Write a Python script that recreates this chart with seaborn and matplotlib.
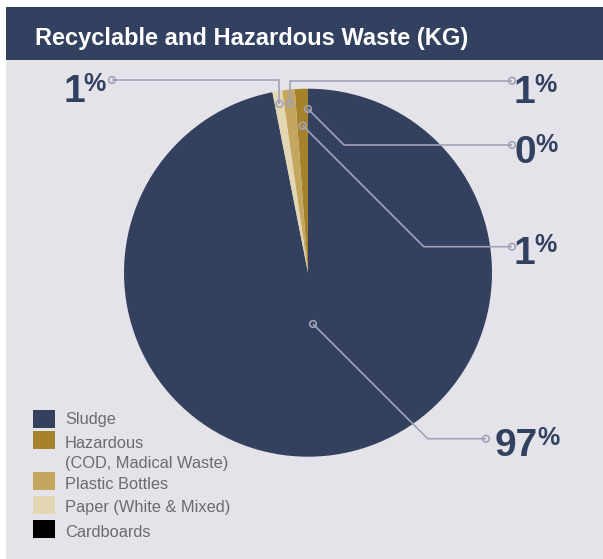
import matplotlib
matplotlib.use("Agg")
import matplotlib.pyplot as plt
import seaborn as sns
import numpy as np
from matplotlib.patches import Rectangle, Circle

# ---- data -------------------------------------------------------------
categories = ["Sludge", "Hazardous\n(COD, Madical Waste)", "Plastic Bottles",
              "Paper (White & Mixed)", "Cardboards"]
shares = [96.9, 1.15, 1.10, 0.85, 0.0]          # percent of total weight
colors = ["#33415F", "#A6832B", "#C4A65E", "#E3D6B3", "#000000"]
title = "Recyclable and Hazardous Waste (KG)"

# ---- style --------------------------------------------------------------
sns.set_theme(style="white")
plt.rcParams["font.family"] = ["Liberation Sans", "DejaVu Sans"]

NAVY = "#334160"
PANEL = "#E4E3EA"
LEADER = "#A0A3B8"
LEGEND_TXT = "#6B6B6E"

W, H = 603, 559
fig = plt.figure(figsize=(W / 100, H / 100), dpi=100, facecolor="white")
ax = fig.add_axes([0, 0, 1, 1])


def Y(y):
    """top-down pixel row -> axes y"""
    return H - y


# panel and header band
ax.add_patch(Rectangle((6, 0), W - 6, Y(60), color=PANEL, zorder=0, lw=0))
ax.add_patch(Rectangle((6, Y(60)), W - 6, 53, color=NAVY, zorder=0, lw=0))
ax.text(35, Y(44.5), title, color="white", fontsize=17, fontweight="bold",
        va="baseline", ha="left", zorder=5)

# ---- pie ----------------------------------------------------------------
cx, cy, R = 308, Y(272.7), 184
total = sum(shares)
wedges, _ = ax.pie(shares, colors=colors, center=(cx, cy), radius=R,
                   startangle=90 - 360 * shares[0] / total, counterclock=True,
                   frame=True, wedgeprops=dict(linewidth=0))
ax.set_xlim(0, W)
ax.set_ylim(0, H)
ax.axis("off")

# ---- leader lines and value labels -------------------------------------
# (anchor radius fraction, route, level row, end column, number x, baseline row)
layout = [
    (0.28, "diag", 438.7, 486, 495, 456.0),    # Sludge
    (0.80, "diag", 246.7, 512, 514, 263.5),    # Hazardous
    (0.925, "up", 80.7, 512, 514, 102.7),      # Plastic Bottles
    (0.93, "up", 80.0, 112, 63, 102.3),        # Paper
    (0.89, "diag", 145.0, 512, 515, 162.7),    # Cardboards
]

for i, (w, share, (rf, route, lvl, xend, nx, base)) in enumerate(
        zip(wedges, shares, layout)):
    if share > 0:
        theta = np.deg2rad((w.theta1 + w.theta2) / 2)
    else:
        theta = np.deg2rad(wedges[0].theta2)
    x0 = cx + rf * R * np.cos(theta)
    y0 = cy + rf * R * np.sin(theta)
    ylev = Y(lvl)
    if route == "up":
        xs = [x0, x0, xend]
        ys = [y0, ylev, ylev]
    else:
        xe = x0 + (y0 - ylev)
        xs = [x0, xe, xend]
        ys = [y0, ylev, ylev]
    ax.plot(xs, ys, color=LEADER, lw=1.2, zorder=4, solid_capstyle="butt")
    for (px, py) in [(xs[0], ys[0]), (xs[-1], ys[-1])]:
        ax.add_patch(Circle((px, py), 3.3, facecolor="none", edgecolor=LEADER,
                            lw=1.2, zorder=5))
    num = ax.text(nx, Y(base), f"{round(share):d}", color=NAVY, fontsize=28,
                  fontweight="bold", ha="left", va="baseline", zorder=6)
    ax.annotate("%", xy=(1, 1), xycoords=num, xytext=(-1, 2),
                textcoords="offset pixels", color=NAVY, fontsize=18,
                fontweight="bold", ha="left", va="top", zorder=6)

# ---- legend -------------------------------------------------------------
sq_top = [410, 431, 471.7, 496, 520]
txt_base = [424, 448, 489, 512, 537]
for cat, col, top, base in zip(categories, colors, sq_top, txt_base):
    ax.add_patch(Rectangle((33, Y(top + 18)), 22, 18, color=col, lw=0, zorder=5))
    for k, line in enumerate(cat.split("\n")):
        ax.text(65, Y(base + 20 * k), line, color=LEGEND_TXT, fontsize=11.8,
                ha="left", va="baseline", zorder=5)

fig.savefig("out.png", dpi=100, facecolor="white")
